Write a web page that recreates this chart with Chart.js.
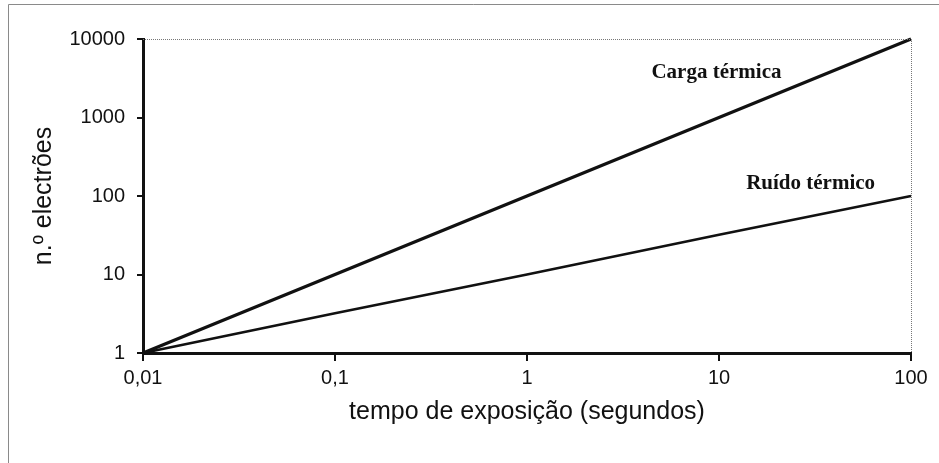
<!DOCTYPE html>
<html>
<head>
<meta charset="utf-8">
<script src="https://cdn.jsdelivr.net/npm/chart.js@4/dist/chart.umd.min.js"></script>
<style>
  html, body { margin: 0; padding: 0; background: #fff; }
  #wrap { position: relative; width: 939px; height: 463px; }
</style>
</head>
<body>
<div id="wrap"><canvas id="grafico" width="939" height="463"></canvas></div>
<script>
// valores (escala log-log)
const tempos = [0.01, 0.1, 1, 10, 100];
const cargaTermica = [1, 10, 100, 1000, 10000];
const ruidoTermico = [1, 3.2, 10, 32, 100];

const xTicks = [0.01, 0.1, 1, 10, 100];
const yTicks = [1, 10, 100, 1000, 10000];

// textos sobre as linhas (coordenadas em unidades dos eixos)
const rotulos = [
  { texto: 'Carga térmica', x: 9.7, y: 3700 },
  { texto: 'Ruído térmico', x: 30, y: 142 }
];

const preto = '#111';

function fmt(v) {
  return String(v).replace('.', ',');
}

// moldura da figura, borda pontilhada da área e rótulos
const extras = {
  id: 'extras',
  beforeDraw(chart) {
    const c = chart.ctx;
    c.save();
    c.fillStyle = '#fff';
    c.fillRect(0, 0, chart.width, chart.height);
    c.strokeStyle = '#8a8a8a';
    c.lineWidth = 1;
    c.beginPath();
    c.moveTo(8.5, chart.height);
    c.lineTo(8.5, 4.5);
    c.lineTo(chart.width, 4.5);
    c.stroke();
    c.restore();
  },
  afterDatasetsDraw(chart) {
    const c = chart.ctx;
    const a = chart.chartArea;
    c.save();
    c.strokeStyle = '#777';
    c.lineWidth = 1;
    c.setLineDash([1, 1]);
    c.beginPath();
    c.moveTo(a.left, a.top + 0.5);
    c.lineTo(a.right + 0.5, a.top + 0.5);
    c.lineTo(a.right + 0.5, a.bottom);
    c.stroke();
    c.restore();

    c.save();
    c.fillStyle = preto;
    c.font = 'bold 21px "Liberation Serif", "Times New Roman", serif';
    c.textAlign = 'center';
    c.textBaseline = 'middle';
    rotulos.forEach(r => {
      const px = chart.scales.x.getPixelForValue(r.x);
      const py = chart.scales.y.getPixelForValue(r.y);
      c.fillText(r.texto, px, py);
    });
    c.restore();
  }
};

const fonteEixo = { family: '"Liberation Sans", Arial, sans-serif', size: 20 };
const fonteTitulo = { family: '"Liberation Sans", Arial, sans-serif', size: 25 };

new Chart(document.getElementById('grafico').getContext('2d'), {
  type: 'line',
  data: {
    datasets: [
      {
        label: 'Carga térmica',
        data: tempos.map((t, i) => ({ x: t, y: cargaTermica[i] })),
        borderColor: preto,
        borderWidth: 3.2,
        pointRadius: 0,
        tension: 0,
        fill: false
      },
      {
        label: 'Ruído térmico',
        data: tempos.map((t, i) => ({ x: t, y: ruidoTermico[i] })),
        borderColor: preto,
        borderWidth: 2.6,
        pointRadius: 0,
        tension: 0,
        fill: false
      }
    ]
  },
  options: {
    responsive: false,
    animation: false,
    clip: false,
    layout: { padding: { top: 39, right: 28, left: 0, bottom: 0 } },
    plugins: {
      legend: { display: false },
      tooltip: { enabled: false }
    },
    scales: {
      x: {
        type: 'logarithmic',
        min: 0.01,
        max: 100,
        afterBuildTicks: s => { s.ticks = xTicks.map(v => ({ value: v })); },
        afterFit: s => { s.height = 110; },
        ticks: {
          color: preto,
          font: fonteEixo,
          padding: 5,
          maxRotation: 0,
          autoSkip: false,
          callback: v => fmt(v)
        },
        grid: {
          drawOnChartArea: false,
          drawTicks: true,
          tickLength: 8,
          tickColor: preto,
          lineWidth: 2
        },
        border: { color: preto, width: 3 },
        title: {
          display: true,
          text: 'tempo de exposição (segundos)',
          color: preto,
          font: fonteTitulo,
          padding: { top: 0, bottom: 36 }
        }
      },
      y: {
        type: 'logarithmic',
        min: 1,
        max: 10000,
        afterBuildTicks: s => { s.ticks = yTicks.map(v => ({ value: v })); },
        afterFit: s => { s.width = 143; },
        ticks: {
          color: preto,
          font: fonteEixo,
          padding: 12,
          autoSkip: false,
          callback: v => fmt(v)
        },
        grid: {
          drawOnChartArea: false,
          drawTicks: true,
          tickLength: 6,
          tickColor: preto,
          lineWidth: 2
        },
        border: { color: preto, width: 3 },
        title: {
          display: true,
          text: 'n.º electrões',
          color: preto,
          font: fonteTitulo,
          padding: { top: 29, bottom: 0 }
        }
      }
    }
  },
  plugins: [extras]
});
</script>
</body>
</html>
